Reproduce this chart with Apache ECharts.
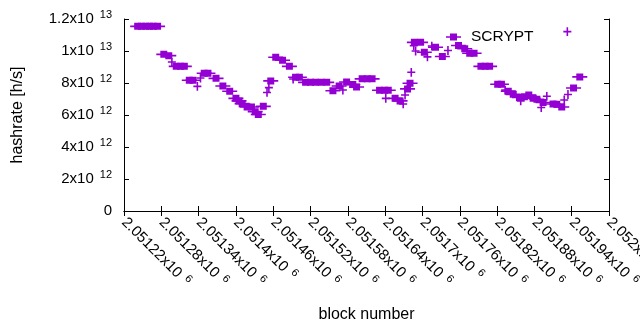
<!DOCTYPE html>
<html>
<head>
<meta charset="utf-8">
<script src="https://cdn.jsdelivr.net/npm/echarts@6/dist/echarts.min.js"></script>
<style>
  html, body { margin: 0; padding: 0; background: #fff; }
  #chart { width: 640px; height: 330px; }
</style>
</head>
<body>
<div id="chart"></div>
<script>
// hashrate estimates per block, rates in units of 10^12 h/s
const boxBlocks = [
  2051242, 2051248, 2051255, 2051261, 2051267, 2051274, 2051284, 2051292,
  2051304, 2051311, 2051317, 2051325, 2051331, 2051349, 2051355, 2051368,
  2051379, 2051390, 2051400, 2051405, 2051410, 2051418, 2051425, 2051431,
  2051436, 2051444, 2051456, 2051464, 2051475, 2051486, 2051496, 2051502,
  2051512, 2051520, 2051528, 2051537, 2051546, 2051556, 2051566, 2051578,
  2051588, 2051594, 2051603, 2051611, 2051619, 2051631, 2051639, 2051645,
  2051656, 2051664, 2051676, 2051680, 2051687, 2051697, 2051703, 2051721,
  2051732, 2051758, 2051768, 2051776, 2051783, 2051794, 2051801, 2051808,
  2051821, 2051827, 2051838, 2051846, 2051856, 2051864, 2051871, 2051878,
  2051884, 2051894, 2051910, 2051916, 2051924, 2051943, 2051953
];
const boxRates = [
  11.54, 11.54, 11.54, 11.54, 11.54, 11.54, 9.79, 9.71,
  9.04, 9.04, 9.04, 8.17, 8.17, 8.61, 8.61, 8.29,
  7.81, 7.48, 7.04, 6.88, 6.71, 6.50, 6.50, 6.21,
  6.03, 6.54, 8.13, 9.61, 9.42, 9.04, 8.36, 8.36,
  8.04, 8.04, 8.04, 8.04, 8.04, 7.52, 7.81, 8.06,
  7.91, 7.75, 8.26, 8.26, 8.26, 7.55, 7.55, 7.55,
  7.04, 6.88, 7.63, 7.98, 10.54, 10.54, 9.92, 10.23,
  9.66, 10.34, 10.14, 9.86, 9.86, 9.04, 9.04, 9.04,
  7.92, 7.92, 7.49, 7.29, 7.09, 7.14, 7.25, 7.04,
  6.98, 6.78, 6.69, 6.67, 6.50, 7.69, 8.38
];
// points drawn as plain crosses
const plusBlocks = [
  2051297, 2051338, 2051343, 2051450, 2051453, 2051492, 2051572, 2051641,
  2051669, 2051672, 2051682, 2051686, 2051689, 2051708, 2051715, 2051741,
  2051833, 2051858, 2051891, 2051900, 2051928, 2051934, 2051933
];
const plusRates = [
  9.31, 7.79, 8.31, 7.41, 7.71, 8.25, 7.56, 7.04,
  6.69, 7.25, 8.67, 10.33, 10.00, 9.63, 10.31, 10.03,
  7.56, 6.88, 6.47, 7.17, 6.94, 7.28, 11.21
];
const xRange = [2051220, 2052000];
const xStep = 60;
const yRange = [0, 12e12];
const yStep = 2e12;

const purple = '#9400d3';
const font = 'Liberation Sans, Arial, sans-serif';
const boxIcon = 'path://M0,2.7L15,2.7L15,4.3L0,4.3Z M4,0L11,0L11,7L4,7Z';
const plusIcon = 'path://M0,3.6L8,3.6L8,5.2L0,5.2Z M3.2,0L4.8,0L4.8,8.8L3.2,8.8Z';

// "a x10^e" with a raised exponent, gnuplot style
function sci(v) {
  if (v === 0) return '{a|0}';
  const e = Math.floor(Math.log10(v) + 1e-9);
  const m = +(v / Math.pow(10, e)).toFixed(6);
  return '{a|' + m + 'x10}{s|' + e + '}';
}
const rich = {
  a: { fontSize: 15, fontFamily: font, color: '#000' },
  s: { fontSize: 11, fontFamily: font, color: '#000', padding: [0, 0, 8, 6] }
};

const chart = echarts.init(document.getElementById('chart'));

const axisCommon = {
  axisLine: { show: true, lineStyle: { color: '#000', width: 1 } },
  axisTick: { show: true, inside: true, length: 5, lineStyle: { color: '#000' } },
  splitLine: { show: false }
};

chart.setOption({
  animation: false,
  grid: { left: 124, right: 31, top: 19, bottom: 119, containLabel: false, outerBoundsMode: 'none' },
  legend: {
    data: ['SCRYPT'],
    left: 441,
    top: 24,
    itemWidth: 15,
    itemHeight: 7,
    icon: boxIcon,
    selectedMode: false,
    textStyle: { fontSize: 15.5, fontFamily: font, color: '#000', padding: [0, 0, 0, 5] }
  },
  xAxis: [
    Object.assign({
      type: 'value', position: 'bottom',
      min: xRange[0], max: xRange[1], interval: xStep,
      name: 'block number', nameLocation: 'middle', nameGap: 96,
      nameTextStyle: { fontSize: 16, fontFamily: font, color: '#000' },
      axisLabel: {
        rotate: -45, margin: 9, interval: 0, hideOverlap: false,
        formatter: sci, rich: rich
      }
    }, axisCommon),
    Object.assign({
      type: 'value', position: 'top',
      min: xRange[0], max: xRange[1], interval: xStep,
      axisLabel: { show: false }
    }, axisCommon)
  ],
  yAxis: [
    Object.assign({
      type: 'value', position: 'left',
      min: yRange[0], max: yRange[1], interval: yStep,
      name: 'hashrate [h/s]', nameLocation: 'middle', nameGap: 98, nameRotate: 90,
      nameTextStyle: { fontSize: 16, fontFamily: font, color: '#000' },
      axisLabel: { margin: 12, formatter: sci, rich: rich }
    }, axisCommon),
    Object.assign({
      type: 'value', position: 'right',
      min: yRange[0], max: yRange[1], interval: yStep,
      axisLabel: { show: false }
    }, axisCommon)
  ],
  series: [
    {
      name: 'SCRYPT', type: 'scatter',
      symbol: boxIcon, symbolSize: [15, 7],
      itemStyle: { color: purple, opacity: 1 },
      data: boxBlocks.map((b, i) => [b, boxRates[i] * 1e12]),
      silent: true
    },
    {
      name: 'plus', type: 'scatter',
      symbol: plusIcon, symbolSize: [8, 8.8],
      itemStyle: { color: purple, opacity: 1 },
      data: plusBlocks.map((b, i) => [b, plusRates[i] * 1e12]),
      silent: true
    }
  ]
});
</script>
</body>
</html>
